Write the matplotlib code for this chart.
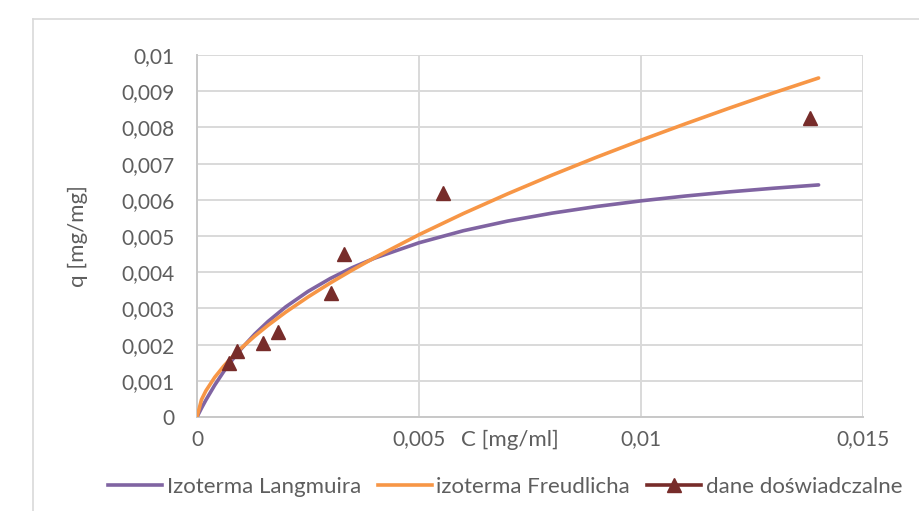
import matplotlib
matplotlib.use('Agg')
import matplotlib.pyplot as plt
from matplotlib.lines import Line2D

# curve values
c_curve = [0, 0.0001, 0.0002, 0.0004, 0.0006, 0.0008, 0.001, 0.0013, 0.0016, 0.002, 0.0025, 0.003,
           0.0035, 0.004, 0.005, 0.006, 0.007, 0.008, 0.009, 0.010, 0.011, 0.012, 0.013, 0.014]
q_langmuir = [0, 0.000241, 0.000467, 0.000882, 0.001253, 0.001586, 0.001887, 0.002289, 0.002639,
              0.003044, 0.003469, 0.003825, 0.004128, 0.004388, 0.004813, 0.005146, 0.005413,
              0.005632, 0.005815, 0.005971, 0.006104, 0.00622, 0.006321, 0.006411]
q_freundlich = [0, 0.000476, 0.000723, 0.001098, 0.001402, 0.001668, 0.001908, 0.002234, 0.002533,
                0.002898, 0.003315, 0.003701, 0.004061, 0.004401, 0.005036, 0.005621, 0.006167,
                0.006684, 0.007177, 0.007647, 0.008099, 0.008537, 0.00896, 0.009365]

# experimental points
c_exp = [0.000728, 0.000894, 0.00148, 0.00182, 0.00302, 0.00330, 0.00553, 0.01381]
q_exp = [0.00148, 0.00183, 0.00205, 0.00236, 0.00342, 0.00449, 0.0062, 0.00825]

x_ticks = [0, 0.005, 0.01, 0.015]
x_labels = ['0', '0,005', '0,01', '0,015']
y_ticks = [0, 0.001, 0.002, 0.003, 0.004, 0.005, 0.006, 0.007, 0.008, 0.009, 0.01]
y_labels = ['0', '0,001', '0,002', '0,003', '0,004', '0,005', '0,006', '0,007', '0,008', '0,009', '0,01']

plt.rcParams['font.family'] = ['Lato', 'DejaVu Sans']
text_color = '#5E5E5E'
grid_color = '#D9D9D9'
purple = '#8064A2'
orange = '#F79646'
marker_color = '#772C2A'

W, H = 919, 511
fig = plt.figure(figsize=(W / 100, H / 100), dpi=100)
ax = fig.add_axes([197 / W, 1 - 417 / H, (863 - 197) / W, (417 - 55) / H])

# chart frame
fig.add_artist(Line2D([33 / W, 33 / W], [0, 1 - 19 / H], transform=fig.transFigure, color=grid_color, lw=1.2))
fig.add_artist(Line2D([33 / W, 1], [1 - 19 / H, 1 - 19 / H], transform=fig.transFigure, color=grid_color, lw=1.2))

ax.plot(c_curve, q_langmuir, color=purple, lw=2.6, label='Izoterma Langmuira', zorder=3, solid_capstyle='round')
ax.plot(c_curve, q_freundlich, color=orange, lw=2.6, label='izoterma Freudlicha', zorder=3, solid_capstyle='round')
ax.plot(c_exp, q_exp, linestyle='none', marker='^', markersize=10.5, color=marker_color,
        label='dane doświadczalne', zorder=4)

ax.set_xlim(0, 0.015)
ax.set_ylim(0, 0.01)
ax.set_xticks(x_ticks)
ax.set_xticklabels(x_labels)
ax.set_yticks(y_ticks)
ax.set_yticklabels(y_labels)
ax.tick_params(length=0, labelsize=15, colors=text_color)
ax.tick_params(axis='x', pad=9)
ax.tick_params(axis='y', pad=16)
ax.grid(True, color=grid_color, lw=1.4)
ax.set_axisbelow(True)
for side in ['top', 'right']:
    ax.spines[side].set_visible(False)
ax.spines['left'].set_color('#C8C8C8')
ax.spines['bottom'].set_color('#C8C8C8')
ax.spines['left'].set_linewidth(1.4)
ax.spines['bottom'].set_linewidth(1.4)

ax.set_ylabel('q [mg/mg]', fontsize=16, color=text_color)
ax.yaxis.set_label_coords((88 - 197) / (863 - 197), 0.5)
fig.text(510 / W, 1 - 440 / H, 'C [mg/ml]', fontsize=16, color=text_color, ha='center', va='center')

legend_handles = [
    Line2D([0], [0], color=purple, lw=2.6),
    Line2D([0], [0], color=orange, lw=2.6),
    Line2D([0], [0], color=marker_color, lw=2.6, marker='^', markersize=10.5),
]
fig.legend(legend_handles, ['Izoterma Langmuira', 'izoterma Freudlicha', 'dane doświadczalne'],
           loc='center', bbox_to_anchor=(505 / W, 1 - 487 / H), ncol=3, frameon=False,
           fontsize=16, labelcolor=text_color, handlelength=2.45, handletextpad=0.2, columnspacing=0.75)

fig.savefig('out.png', dpi=100)
